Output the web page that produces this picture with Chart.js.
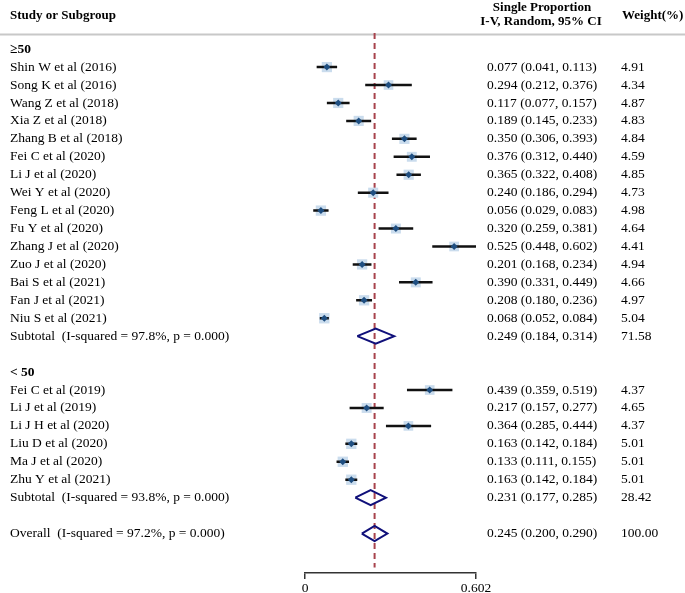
<!DOCTYPE html>
<html>
<head>
<meta charset="utf-8">
<script src="https://cdn.jsdelivr.net/npm/chart.js@4.4.1/dist/chart.umd.min.js"></script>
<style>
  body { margin: 0; background: #fff; }
  #wrap { width: 685px; height: 593px; position: relative; }
</style>
</head>
<body>
<div id="wrap"><canvas id="forestChart"></canvas></div>
<script>
// group >= 50
const studiesA = ['Shin W et al (2016)', 'Song K et al (2016)', 'Wang Z et al (2018)', 'Xia Z et al (2018)',
  'Zhang B et al (2018)', 'Fei C et al (2020)', 'Li J et al (2020)', 'Wei Y et al (2020)', 'Feng L et al (2020)',
  'Fu Y et al (2020)', 'Zhang J et al (2020)', 'Zuo J et al (2020)', 'Bai S et al (2021)', 'Fan J et al (2021)',
  'Niu S et al (2021)'];
const estA = [0.077, 0.294, 0.117, 0.189, 0.350, 0.376, 0.365, 0.240, 0.056, 0.320, 0.525, 0.201, 0.390, 0.208, 0.068];
const lowA = [0.041, 0.212, 0.077, 0.145, 0.306, 0.312, 0.322, 0.186, 0.029, 0.259, 0.448, 0.168, 0.331, 0.180, 0.052];
const highA = [0.113, 0.376, 0.157, 0.233, 0.393, 0.440, 0.408, 0.294, 0.083, 0.381, 0.602, 0.234, 0.449, 0.236, 0.084];
const weightA = [4.91, 4.34, 4.87, 4.83, 4.84, 4.59, 4.85, 4.73, 4.98, 4.64, 4.41, 4.94, 4.66, 4.97, 5.04];
const subA = [0.249, 0.184, 0.314];
const subWeightA = 71.58;

// group < 50
const studiesB = ['Fei C et al (2019)', 'Li J et al (2019)', 'Li J H et al (2020)', 'Liu D et al (2020)',
  'Ma J et al (2020)', 'Zhu Y et al (2021)'];
const estB = [0.439, 0.217, 0.364, 0.163, 0.133, 0.163];
const lowB = [0.359, 0.157, 0.285, 0.142, 0.111, 0.142];
const highB = [0.519, 0.277, 0.444, 0.184, 0.155, 0.184];
const weightB = [4.37, 4.65, 4.37, 5.01, 5.01, 5.01];
const subB = [0.231, 0.177, 0.285];
const subWeightB = 28.42;

// overall
const overall = [0.245, 0.200, 0.290];
const overallWeight = 100.00;

const groupLabels = ['\u226550', '< 50'];
const summaryLabels = ['Subtotal  (I-squared = 97.8%, p = 0.000)', 'Subtotal  (I-squared = 93.8%, p = 0.000)',
  'Overall  (I-squared = 97.2%, p = 0.000)'];
const xTicks = [0, 0.602];

// build the rows (y = row index, top to bottom)
const rows = [];
let r = -1;
rows.push({ type: 'group', label: groupLabels[0], y: r++ });
studiesA.forEach((s, i) => rows.push({ type: 'study', label: s, est: estA[i], lo: lowA[i], hi: highA[i], w: weightA[i], y: r++ }));
rows.push({ type: 'sum', label: summaryLabels[0], est: subA[0], lo: subA[1], hi: subA[2], w: subWeightA, y: r++ });
r++;
rows.push({ type: 'group', label: groupLabels[1], y: r++ });
studiesB.forEach((s, i) => rows.push({ type: 'study', label: s, est: estB[i], lo: lowB[i], hi: highB[i], w: weightB[i], y: r++ }));
rows.push({ type: 'sum', label: summaryLabels[1], est: subB[0], lo: subB[1], hi: subB[2], w: subWeightB, y: r++ });
r++;
rows.push({ type: 'sum', label: summaryLabels[2], est: overall[0], lo: overall[1], hi: overall[2], w: overallWeight, y: r++ });

const studyRows = rows.filter(d => d.type === 'study');
const sumRows = rows.filter(d => d.type === 'sum');
const gap = { x: NaN, y: NaN };

const ciData = [];
studyRows.forEach(d => { ciData.push({ x: d.lo, y: d.y }, { x: d.hi, y: d.y }, gap); });

const diamondData = [];
sumRows.forEach(d => {
  diamondData.push({ x: d.lo, y: d.y }, { x: d.est, y: d.y - 0.42 }, { x: d.hi, y: d.y },
    { x: d.est, y: d.y + 0.42 }, { x: d.lo, y: d.y }, gap);
});

const fmt = v => v.toFixed(3);
const serif = '"Liberation Serif", "Times New Roman", serif';

const textPlugin = {
  id: 'forestText',
  beforeDraw(chart) {
    const ctx = chart.ctx;
    ctx.save();
    ctx.strokeStyle = '#c8c8c8';
    ctx.lineWidth = 2;
    ctx.beginPath();
    ctx.moveTo(0, 34.5);
    ctx.lineTo(685, 34.5);
    ctx.stroke();
    ctx.restore();
  },
  afterDraw(chart) {
    const ctx = chart.ctx;
    const y = chart.scales.y;
    ctx.save();
    ctx.fillStyle = '#000';
    ctx.textBaseline = 'middle';
    // header
    ctx.font = 'bold 13px ' + serif;
    ctx.textAlign = 'left';
    ctx.fillText('Study or Subgroup', 10, 16);
    ctx.fillText('Weight(%)', 622, 16);
    ctx.textAlign = 'center';
    ctx.fillText('Single Proportion', 542, 8);
    ctx.fillText('I-V, Random, 95% CI', 541, 22);
    ctx.textAlign = 'left';
    rows.forEach(d => {
      const py = y.getPixelForValue(d.y);
      if (d.type === 'group') {
        ctx.font = 'bold 13.5px ' + serif;
        ctx.fillText(d.label, 10, py);
        return;
      }
      ctx.font = '13.5px ' + serif;
      ctx.fillText(d.label, 10, py);
      ctx.fillText(fmt(d.est) + ' (' + fmt(d.lo) + ', ' + fmt(d.hi) + ')', 487, py);
      ctx.fillText(d.w.toFixed(2), 621, py);
    });
    ctx.restore();
  }
};

const ctx = document.getElementById('forestChart').getContext('2d');
const forestChart = new Chart(ctx, {
  type: 'scatter',
  data: {
    datasets: [
      {
        // overall effect reference line
        data: [{ x: overall[0], y: -1.9 }, { x: overall[0], y: 27.9 }],
        showLine: true,
        borderColor: '#a8434c',
        borderWidth: 2,
        borderDash: [6, 4],
        pointRadius: 0,
        order: 5
      },
      {
        // weight boxes
        data: studyRows.map(d => ({ x: d.est, y: d.y })),
        pointStyle: 'rect',
        pointRadius: studyRows.map(d => 7.3 * Math.sqrt(d.w / 5)),
        backgroundColor: '#cadced',
        borderWidth: 0,
        order: 4
      },
      {
        // confidence intervals
        data: ciData,
        showLine: true,
        borderColor: '#111',
        borderWidth: 2.5,
        pointRadius: 0,
        spanGaps: false,
        order: 3
      },
      {
        // summary diamonds
        data: diamondData,
        showLine: true,
        borderColor: '#10107a',
        borderWidth: 2,
        pointRadius: 0,
        spanGaps: false,
        order: 2
      },
      {
        // point estimates
        data: studyRows.map(d => ({ x: d.est, y: d.y })),
        pointStyle: 'rectRot',
        pointRadius: 3.5,
        backgroundColor: '#1f4f82',
        borderWidth: 0,
        order: 1
      }
    ]
  },
  options: {
    responsive: true,
    maintainAspectRatio: false,
    animation: false,
    layout: { padding: { left: 305, right: 209, top: 33, bottom: 0 } },
    plugins: { legend: { display: false }, tooltip: { enabled: false } },
    scales: {
      x: {
        type: 'linear',
        min: xTicks[0],
        max: xTicks[1],
        afterBuildTicks: scale => { scale.ticks = xTicks.map(v => ({ value: v })); },
        afterFit: scale => { scale.height = 20; },
        grid: { drawOnChartArea: false, drawTicks: true, tickLength: 6, color: '#333', lineWidth: 1.5 },
        border: { display: true, color: '#333', width: 1.5 },
        ticks: {
          autoSkip: false,
          maxRotation: 0,
          padding: 1,
          color: '#000',
          font: { family: serif, size: 13.5 },
          callback: v => (v === 0 ? '0' : v.toFixed(3))
        }
      },
      y: {
        type: 'linear',
        display: false,
        reverse: true,
        min: -1.9,
        max: 28.2
      }
    }
  },
  plugins: [textPlugin]
});
</script>
</body>
</html>
